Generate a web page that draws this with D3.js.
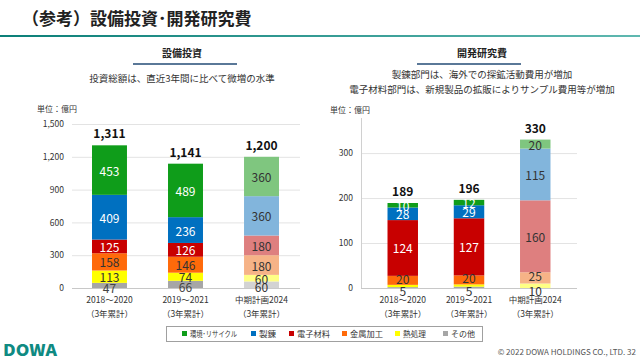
<!DOCTYPE html>
<html><head><meta charset="utf-8">
<script src="https://cdn.jsdelivr.net/npm/d3@7"></script>
<style>
body{margin:0;background:#fff;}
text{font-family:"Noto Sans CJK JP","Noto Sans",sans-serif;}
</style></head>
<body>
<svg id="c" width="640" height="360"></svg>
<script>
// ---- data ----
const seriesNames = ["その他","熱処理","金属加工","電子材料","製錬","環境･リサイクル"];
const categories = ["2018～2020","2019～2021","中期計画2024"];
const subLabel = "（3年累計）";
// capex (億円), per series, per category
const capexOther   = [47, 66, 60];
const capexHeat    = [113, 74, 60];
const capexMetal   = [158, 146, 180];
const capexElec    = [125, 126, 180];
const capexSmelt   = [409, 236, 360];
const capexEnv     = [453, 489, 360];
const capexTotals  = ["1,311","1,141","1,200"];
const capexTicks   = [0,300,600,900,1200,1500];
// R&D (億円)
const rdOther  = [2, 3, 0];
const rdHeat   = [5, 5, 10];
const rdMetal  = [20, 20, 25];
const rdElec   = [124, 127, 160];
const rdSmelt  = [28, 29, 115];
const rdEnv    = [10, 12, 20];
const rdTotals = ["189","196","330"];
const rdTicks  = [0,100,200,300];

const solid = ["#a6a6a6","#ffff00","#ff6a0a","#c80000","#0070c0","#0f9d1a"];
const light = ["#d3d3d3","#ffff85","#f6b387","#de7f7f","#82b5dc","#7fc67f"];
const textSolid = ["#444","#333","#333","#fff","#fff","#fff"];

const svg = d3.select("#c");

// header
svg.append("text").attr("x",22).attr("y",25).attr("font-size",17).attr("font-weight","bold").attr("fill","#222").text("（参考）設備投資･開発研究費");
const grad = svg.append("defs").append("linearGradient").attr("id","hg");
grad.append("stop").attr("offset","0%").attr("stop-color","#0b7f78");
grad.append("stop").attr("offset","100%").attr("stop-color","#5fb8b0");
svg.append("rect").attr("x",0).attr("y",35).attr("width",640).attr("height",2).attr("fill","url(#hg)");

function panelHead(cx, title, lineX0, lineX1, subs){
  svg.append("text").attr("x",cx).attr("y",57).attr("text-anchor","middle").attr("font-size",10).attr("font-weight","bold").attr("fill","#222").text(title);
  svg.append("rect").attr("x",lineX0).attr("y",63).attr("width",lineX1-lineX0).attr("height",2).attr("fill","#5a7898");
  subs.forEach((s,i)=>{
    svg.append("text").attr("x",cx).attr("y",s.y).attr("text-anchor","middle").attr("font-size",9.5).attr("fill","#333").text(s.t);
  });
}
panelHead(182,"設備投資",133,237,[{t:"投資総額は、直近3年間に比べて微増の水準",y:82}]);
panelHead(482,"開発研究費",417,521,[{t:"製錬部門は、海外での探鉱活動費用が増加",y:78},{t:"電子材料部門は、新規製品の拡販によりサンプル費用等が増加",y:93}]);

function chart(opt){
  const g = svg.append("g");
  const y = d3.scaleLinear().domain(opt.domain).range([288, opt.top]);
  const x = d3.scaleBand().domain(categories).range([opt.x0, opt.x1]).paddingInner(opt.pad).paddingOuter(opt.padOuter);
  g.append("text").attr("x",opt.unitX).attr("y",opt.unitY).attr("font-size",8).attr("fill","#333").text("単位：億円");
  const ax = d3.axisLeft(y).tickValues(opt.ticks).tickSize(-(opt.gridX1-opt.gridX0)).tickFormat(d3.format(","));
  const ag = g.append("g").attr("transform",`translate(${opt.gridX0},0)`).call(ax);
  ag.select(".domain").remove();
  ag.selectAll(".tick line").attr("stroke","#e3e3e3");
  ag.selectAll(".tick text").attr("font-size",8.5).attr("fill","#333").attr("x",-opt.labelGap);
  g.append("line").attr("x1",opt.gridX0).attr("x2",opt.gridX1).attr("y1",288.5).attr("y2",288.5).attr("stroke","#c8c8c8");
  if(opt.vaxis){
    g.append("line").attr("x1",opt.gridX0+0.5).attr("x2",opt.gridX0+0.5).attr("y1",opt.top).attr("y2",288).attr("stroke","#d0d0d0");
  }
  const rows = categories.map((c,i)=>{const r={cat:c,idx:i}; seriesNames.forEach((s,k)=>r[s]=opt.series[k][i]); return r;});
  const stacked = d3.stack().keys(seriesNames)(rows);
  stacked.forEach((layer,k)=>{
    layer.forEach((d,i)=>{
      const plan = i===2;
      const h = y(d[0])-y(d[1]);
      if(h<=0) return;
      g.append("rect").attr("x",x(categories[i])).attr("width",x.bandwidth())
        .attr("y",y(d[1])).attr("height",h)
        .attr("fill", plan ? light[k] : solid[k]);
    });
  });
  stacked.forEach((layer,k)=>{
    layer.forEach((d,i)=>{
      const v = d[1]-d[0];
      if(v<opt.minLabel) return;
      const plan = i===2;
      const cy = (y(d[0])+y(d[1]))/2;
      g.append("text").attr("x",x(categories[i])+x.bandwidth()/2).attr("y",cy+opt.labelOff(k,v))
        .attr("text-anchor","middle").attr("dominant-baseline","central")
        .attr("font-size",12).attr("fill", plan ? "#333" : textSolid[k]).text(v);
    });
  });
  categories.forEach((c,i)=>{
    const top = stacked[stacked.length-1][i][1];
    g.append("text").attr("x",x(c)+x.bandwidth()/2).attr("y",y(top)-7)
      .attr("text-anchor","middle").attr("font-size",12).attr("font-weight","bold").attr("fill","#111").text(opt.totals[i]);
    g.append("text").attr("x",x(c)+x.bandwidth()/2).attr("y",303).attr("text-anchor","middle").attr("font-size",8.5).attr("fill","#333").text(c);
    g.append("text").attr("x",x(c)+x.bandwidth()/2).attr("y",317).attr("text-anchor","middle").attr("font-size",8.5).attr("fill","#333").text(subLabel);
  });
}

chart({domain:[0,1500],top:124,x0:73,x1:298,pad:0.54,padOuter:0.25,gridX0:72,gridX1:300,labelGap:8,
  ticks:capexTicks,unitX:37,unitY:112,vaxis:false,
  series:[capexOther,capexHeat,capexMetal,capexElec,capexSmelt,capexEnv],totals:capexTotals,minLabel:1,
  labelOff:(k,v)=> (k===0 ? 2 : 0)});
chart({domain:[0,378],top:118,x0:361,x1:577,pad:0.54,padOuter:0.4,gridX0:361,gridX1:577,labelGap:8,
  ticks:rdTicks,unitX:330,unitY:113,vaxis:true,
  series:[rdOther,rdHeat,rdMetal,rdElec,rdSmelt,rdEnv],totals:rdTotals,minLabel:5,
  labelOff:(k,v)=> (k===1 ? 5 : (k===2 ? -2 : 0))});

// legend
const lg = svg.append("g");
lg.append("rect").attr("x",166.5).attr("y",326.5).attr("width",316).attr("height",15).attr("fill","#fff").attr("stroke","#a0a0a0");
const legOrder = [5,4,3,2,1,0];
const legX = [182,251,289,342,395,443];
const legW = [47,17,33,33,23,24];
legOrder.forEach((k,i)=>{
  lg.append("rect").attr("x",legX[i]).attr("y",331).attr("width",5).attr("height",5).attr("fill",solid[k]);
  lg.append("text").attr("x",legX[i]+8).attr("y",337).attr("font-size",7.5).attr("fill","#333")
    .attr("textLength",legW[i]).attr("lengthAdjust","spacingAndGlyphs").text(seriesNames[k]);
});

// footer
svg.append("text").attr("x",3).attr("y",356).attr("font-size",16).attr("font-weight","900").attr("fill","#0f8a82").attr("font-family","DejaVu Sans").attr("textLength",54).attr("lengthAdjust","spacingAndGlyphs").text("DOWA");
svg.append("text").attr("x",636).attr("y",355).attr("text-anchor","end").attr("font-size",8).attr("fill","#555").text("© 2022 DOWA HOLDINGS CO., LTD.  32");
</script>
</body></html>
